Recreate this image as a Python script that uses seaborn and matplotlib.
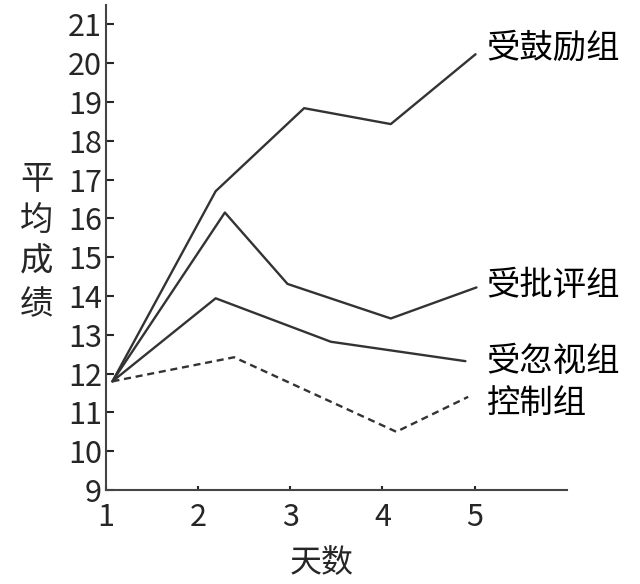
import matplotlib
matplotlib.use("Agg")
import matplotlib.pyplot as plt
import pandas as pd
import seaborn as sns

sns.set_style("white")
plt.rcParams['font.family'] = ['Noto Sans CJK SC', 'DejaVu Sans']

# values (day, mean score)
encouraged_x = [1.07, 2.19, 3.15, 4.09, 5.01]
encouraged_y = [11.8, 16.7, 18.84, 18.43, 20.23]
criticized_x = [1.07, 2.29, 2.97, 4.09, 5.02]
criticized_y = [11.8, 16.15, 14.31, 13.42, 14.22]
ignored_x = [1.07, 2.19, 3.44, 4.9]
ignored_y = [11.8, 13.94, 12.82, 12.32]
control_x = [1.07, 2.39, 4.15, 4.93]
control_y = [11.8, 12.42, 10.5, 11.4]

groups = ["受鼓励组", "受批评组", "受忽视组", "控制组"]
label_y = [20.37, 14.28, 12.31, 11.22]
day_ticks = [1, 2, 3, 4, 5]
score_ticks = list(range(9, 22))

rows = []
for g, xs, ys in zip(groups,
                     [encouraged_x, criticized_x, ignored_x, control_x],
                     [encouraged_y, criticized_y, ignored_y, control_y]):
    for x, y in zip(xs, ys):
        rows.append({"group": g, "day": x, "score": y})
df = pd.DataFrame(rows)

fig = plt.figure(figsize=(6.4, 5.84), dpi=100)
ax = fig.add_axes([0.1656, 0.161, 0.72, 0.8305])

sns.lineplot(data=df, x="day", y="score", hue="group", style="group",
             palette=["#333333"] * 4,
             dashes={"受鼓励组": "", "受批评组": "", "受忽视组": "", "控制组": (3, 2)},
             sort=False, estimator=None, linewidth=1.7, legend=False, ax=ax)

# group names at the right end of each line
for g, y in zip(groups, label_y):
    ax.text(5.13, y, g, fontsize=24, va="center", ha="left", color="black")

ax.set_xlim(1, 6)
ax.set_ylim(9, 21.5)
ax.set_xticks(day_ticks)
ax.set_yticks(score_ticks)
ax.tick_params(axis="y", direction="in", length=6, width=1.5, labelsize=22, pad=3)
ax.tick_params(axis="x", direction="in", length=3, width=1.5, labelsize=22, pad=9)
ax.yaxis.set_tick_params(which="both", left=True)
ax.xaxis.set_tick_params(which="both", bottom=True)

for s in ["top", "right"]:
    ax.spines[s].set_visible(False)
for s in ["left", "bottom"]:
    ax.spines[s].set_color("#444444")
    ax.spines[s].set_linewidth(1.5)

ax.set_xlabel("天数", fontsize=23, va="center")
ax.xaxis.set_label_coords(0.467, -0.15)
ax.set_ylabel("平\n均\n成\n绩", fontsize=24, rotation=0, va="center",
              linespacing=1.25)
ax.yaxis.set_label_coords(-0.15, 0.512)

fig.savefig("out.png", dpi=100)
